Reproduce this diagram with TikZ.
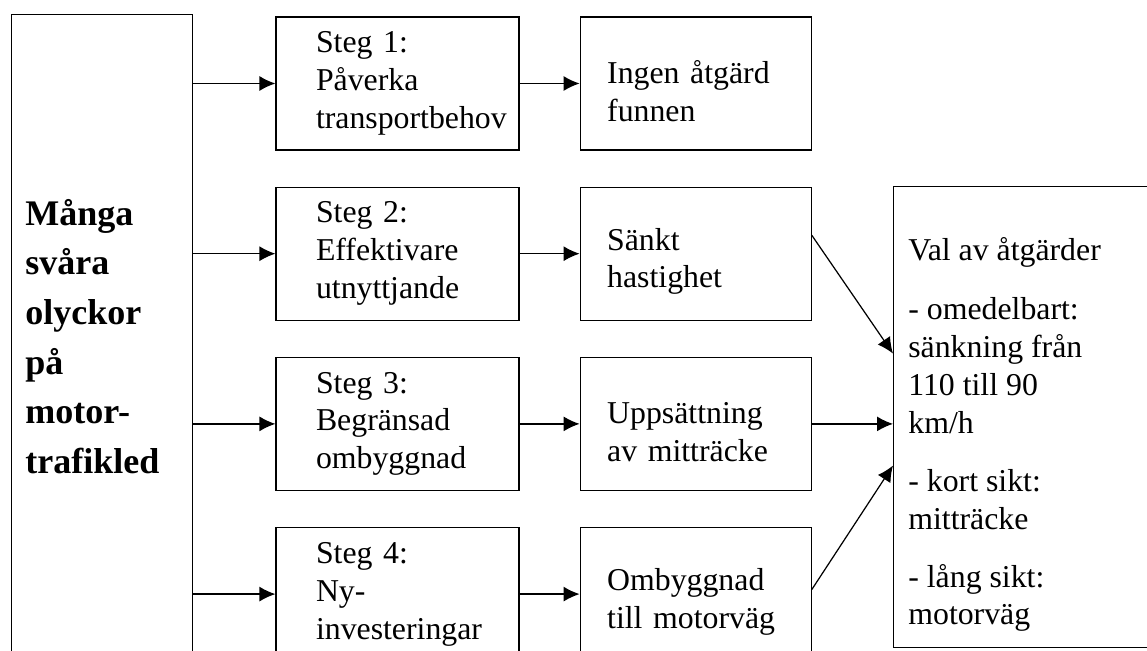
\documentclass[tikz,border=0pt]{standalone}
\usepackage{fontspec}
\setmainfont{Liberation Serif}
\usetikzlibrary{arrows.meta,positioning}
\hyphenpenalty=10000

\tikzset{
  ram/.style={draw, line width=0.7pt, inner sep=0pt},
  stegbox/.style={ram, minimum width=4.86cm, minimum height=2.66cm, text width=3.26cm, align=left, font=\fontsize{18.1}{21.6}\selectfont},
  utfall/.style={ram, minimum width=4.62cm, minimum height=2.66cm, text width=3.54cm, align=left, font=\fontsize{18.1}{21.6}\selectfont,
    execute at begin node=\rule{0pt}{0.75cm}},
  pil/.style={-{Latex[length=0.32cm,width=0.3cm]}, line width=0.7pt},
}

\begin{document}
\begin{tikzpicture}[x=0.02cm, y=-0.02cm]
        \useasboundingbox (0,0) rectangle (1147,651);
        \clip (0,0) rectangle (1147,651);

        \node[ram, anchor=north west, minimum width=3.62cm, minimum height=13cm] (start) at (11,14) {};
        \node[anchor=north west, align=left, inner sep=0pt, font=\bfseries\fontsize{20.5}{28.2}\selectfont] (starttext) at (25,199) {Många\\svåra\\olyckor\\på\\motor-\\trafikled};

        \node[stegbox] (s1) at (397.5,83.5) {Steg 1:\\Påverka\\transportbehov};
        \node[stegbox, below=0.72cm of s1] (s2) {Steg 2:\\Effektivare\\utnyttjande};
        \node[stegbox, below=0.72cm of s2] (s3) {Steg 3:\\Begränsad\\ombyggnad};
        \node[stegbox, below=0.72cm of s3] (s4) {Steg 4:\\Ny-\\investeringar};

        \node[utfall, right=1.2cm of s1] (r1) {Ingen åtgärd\\funnen};
        \node[utfall, right=1.2cm of s2] (r2) {Sänkt\\hastighet};
        \node[utfall, right=1.2cm of s3] (r3) {Uppsättning\\av mitträcke};
        \node[utfall, right=1.2cm of s4] (r4) {Ombyggnad\\till motorväg};

        \node[ram, anchor=north west, minimum width=6cm, minimum height=9.22cm] (val) at (893,186) {};
        \node[anchor=north west, align=left, inner sep=0pt, font=\fontsize{18.1}{21.6}\selectfont] (valtext) at (908,237) {Val av åtgärder\\[0.42cm]
            - omedelbart:\\sänkning från\\110 till 90\\km/h\\[0.4cm]
            - kort sikt:\\mitträcke\\[0.4cm]
            - lång sikt:\\motorväg};

        \foreach \i in {1,...,4} {
            \draw[pil] (start.east |- s\i.west) -- (s\i.west);
            \draw[pil] (s\i.east) -- (r\i.west);
        }
        \draw[pil] ([yshift=0.37cm]r2.east) -- ([yshift=1.27cm]val.west);
        \draw[pil] (r3.east) -- (val.west |- r3.east);
        \draw[pil] ([yshift=0.09cm]r4.east) -- ([yshift=-0.97cm]val.west);
\end{tikzpicture}
\end{document}
